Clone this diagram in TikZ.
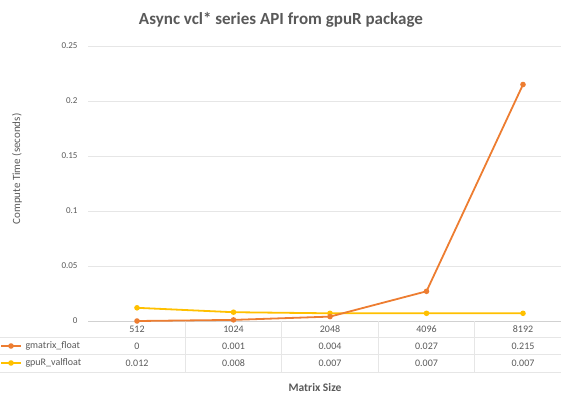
\documentclass[tikz,border=0pt]{standalone}
\usepackage{fontspec}
\setmainfont{Carlito}
\definecolor{ser1}{HTML}{ED7D31}
\definecolor{ser2}{HTML}{FFC000}
\definecolor{txt}{HTML}{595959}
\definecolor{grid}{HTML}{E6E6E6}
\begin{document}
\begin{tikzpicture}[x=1pt,y=-1pt,
  tick/.style={text=txt,font=\fontsize{9}{10}\selectfont},
  cell/.style={text=txt,font=\fontsize{10}{11}\selectfont},
  gridline/.style={draw=grid,line width=0.6pt},
  series/.style={line width=1.8pt,line join=round},
  dot/.style={circle,inner sep=0pt,minimum size=5.5pt}]
\useasboundingbox (0,0) rectangle (561,397);
% title
\node[text=txt,font=\bfseries\fontsize{17}{19}\selectfont] (title) at (281,20) {Async vcl* series API from gpuR package};
% gridlines and y ticks
\foreach \v/\lab in {0.05/0.05,0.1/0.1,0.15/0.15,0.2/0.2,0.25/0.25}{
  \draw[gridline] (88,{321-1100*\v}) -- (561,{321-1100*\v});
  \node[tick,anchor=east] at (81,{321-1100*\v}) {\lab};
}
\node[tick,anchor=east] (y0) at (81,321) {0};
\draw[draw=grid!80!gray,line width=0.7pt] (88,321) -- (561,321);
% y axis title
\node[text=txt,rotate=90,font=\fontsize{11}{12}\selectfont] (ytitle) at (17,169) {Compute Time (seconds)};
% table lines
\foreach \y in {337.5,354.5,372}{
  \draw[gridline] (0,\y) -- (561,\y);
}
\foreach \x in {185,281.5,378,474.5}{
  \draw[gridline] (\x,321) -- (\x,372);
}
% categories and data
\foreach \i/\c/\a/\b in {0/512/0/0.012,1/1024/0.001/0.008,2/2048/0.004/0.007,3/4096/0.027/0.007,4/8192/0.215/0.007}{
  \node[cell] (cat\i) at ({137+96.5*\i},329.5) {\c};
  \node[cell] (ga\i) at ({137+96.5*\i},346) {\a};
  \node[cell] (gb\i) at ({137+96.5*\i},363) {\b};
  \coordinate (pa\i) at ({137+96.5*\i},{321-1100*\a});
  \coordinate (pb\i) at ({137+96.5*\i},{321-1100*\b});
}
% series
\draw[series,ser2] (pb0) -- (pb1) -- (pb2) -- (pb3) -- (pb4);
\foreach \i in {0,...,4}{\fill[ser2] (pb\i) circle (2.8);}
\draw[series,ser1] (pa0) -- (pa1) -- (pa2) -- (pa3) -- (pa4);
\foreach \i in {0,...,4}{\fill[ser1] (pa\i) circle (2.8);}
% legend keys
\coordinate (la0) at (1,346); \coordinate (la1) at (21,346);
\draw[series,ser1] (la0) -- (la1);
\fill[ser1] (11,346) circle (2.8);
\node[cell,anchor=west] (leg1) at (22,346) {gmatrix\_float};
\coordinate (lb0) at (1,363); \coordinate (lb1) at (21,363);
\draw[series,ser2] (lb0) -- (lb1);
\fill[ser2] (11,363) circle (2.8);
\node[cell,anchor=west] (leg2) at (22,363) {gpuR\_valfloat};
% x axis title
\node[text=txt,font=\bfseries\fontsize{11.5}{13}\selectfont] (xtitle) at (315,387) {Matrix Size};
\end{tikzpicture}
\end{document}
